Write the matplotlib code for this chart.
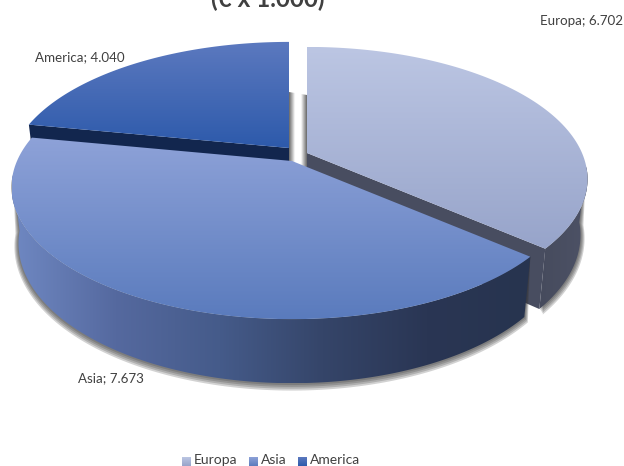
import numpy as np
import matplotlib
matplotlib.use("Agg")
import matplotlib.pyplot as plt
from matplotlib.colors import LinearSegmentedColormap
from matplotlib.patches import Polygon

regions = ["Europa", "Asia", "America"]
values = [6702, 7673, 4040]
labels = ["Europa; 6.702", "Asia; 7.673", "America; 4.040"]
top_colors = [("#bcc6e3", "#97a4ca"), ("#8ea2d8", "#5a7bbd"), ("#5c79bf", "#2d5aab")]
side_colors = [("#464b5d", "#4d5266"),
               ("#6f88c2", "#55699f", "#455b8a", "#354569", "#2a3654", "#27344f"),
               ("#12264e", "#12264e")]
cut_colors = ["#484d60", "#27344f", "#12264e"]

# pie geometry, in pixels
apex = {"Europa": (307, 153), "Asia": (292, 161), "America": (289, 148)}
A = 275
B = 127
K = 0.197
DEPTH = 54.6
BOTTOM_SCALE = 0.975

fig = plt.figure(figsize=(6.24, 4.66), dpi=100)
ax = fig.add_axes([0, 0, 1, 1])
ax.axis("off")


def rim(center, theta, z=0.0, grow=0.0):
    # perspective projection of the circle, theta clockwise from the top
    u = np.sin(theta)
    v = -np.cos(theta)
    d = 1 - K * v
    s = 1 - (1 - BOTTOM_SCALE) * z
    x = center[0] + (A * s + grow) * u / d
    y = center[1] + (B * s + grow) * v / d + z * DEPTH / d + grow * 0.6
    return np.column_stack([x, y])


def gradient(poly_pts, colors, vertical=True, zorder=1):
    cmap = LinearSegmentedColormap.from_list("g", list(colors))
    x0, y0 = poly_pts.min(axis=0)
    x1, y1 = poly_pts.max(axis=0)
    g = np.linspace(0, 1, 256)
    g = g.reshape(-1, 1) if vertical else g.reshape(1, -1)
    im = ax.imshow(g, cmap=cmap, extent=[x0, x1, y1, y0], aspect="auto",
                   interpolation="bilinear", zorder=zorder, vmin=0, vmax=1)
    patch = Polygon(poly_pts, closed=True, transform=ax.transData, fc="none", ec="none")
    ax.add_patch(patch)
    im.set_clip_path(patch)


# angles from the values
fractions = np.array(values) / sum(values)
ends = np.cumsum(fractions) * 2 * np.pi
starts = ends - fractions * 2 * np.pi

# grey shading in the gap behind America and Europa
gx0, gx1 = apex["America"][0], apex["Europa"][0]
gap = np.array([[gx0, 92], [gx1, 95], [gx1, 168], [gx0, 168]], dtype=float)
gap_cmap = LinearSegmentedColormap.from_list("gap", ["#6a6a6a", "#ffffff", "#ffffff", "#6a6a6a"])
gap_im = ax.imshow(np.linspace(0, 1, 64).reshape(1, -1), cmap=gap_cmap,
                   extent=[gx0, gx1, 168, 92], aspect="auto", zorder=1)
gap_patch = Polygon(gap, closed=True, transform=ax.transData, fc="none", ec="none")
ax.add_patch(gap_patch)
gap_im.set_clip_path(gap_patch)

z = 2
for i in [2, 0, 1]:
    name = regions[i]
    c = np.array(apex[name], dtype=float)
    th = np.linspace(starts[i], ends[i], 200)
    front = th[-np.cos(th) > 0.1]

    if len(front) > 0:
        # soft shadow under the wall, only the front part of the rim shows
        for grow in [4, 3, 2, 1]:
            pts = np.vstack([rim(c, front), rim(c, front, 1.0, grow)[::-1]])
            ax.add_patch(Polygon(pts, closed=True, fc="#333333", ec="none",
                                 alpha=0.22, zorder=z))
        z += 1

        # outer wall
        wall = np.vstack([rim(c, front), rim(c, front, 1.0)[::-1]])
        gradient(wall, side_colors[i], vertical=False, zorder=z)
        z += 1

    # cut faces
    if name != "Asia":
        for t in [starts[i], ends[i]]:
            if -np.cos(t) > -0.5:
                p_top = rim(c, np.array([t]))[0]
                p_bot = rim(c, np.array([t]), 1.0)[0]
                face = [c, p_top, p_bot, c + [0, DEPTH]]
                ax.add_patch(Polygon(face, closed=True, fc=cut_colors[i], ec="none", zorder=z))
        z += 1

    # top face
    top = np.vstack([c, rim(c, th)])
    gradient(top, top_colors[i], zorder=z)
    z += 1

plt.rcParams["font.family"] = ["Lato", "DejaVu Sans"]
text_c = "#404040"
ax.text(268, -1, "(€ x 1.000)", ha="center", va="center", fontsize=17.5, fontweight="bold",
        color=text_c, zorder=50)
label_pos = [(582, 21), (111, 378), (80, 57)]
for lab, (lx, ly) in zip(labels, label_pos):
    ax.text(lx, ly, lab, ha="center", va="center", fontsize=9.6, color=text_c, zorder=50)

# legend
swatch_x = [182, 249, 298]
text_x = [194, 261, 310]
for i, name in enumerate(regions):
    sw = np.array([[swatch_x[i], 457], [swatch_x[i] + 9, 457],
                   [swatch_x[i] + 9, 466], [swatch_x[i], 466]], dtype=float)
    gradient(sw, top_colors[i], zorder=40)
    ax.text(text_x[i], 460.5, name, ha="left", va="center", fontsize=10, color=text_c, zorder=50)

ax.set_xlim(0, 624)
ax.set_ylim(466, 0)
fig.savefig("out.png", dpi=100)
